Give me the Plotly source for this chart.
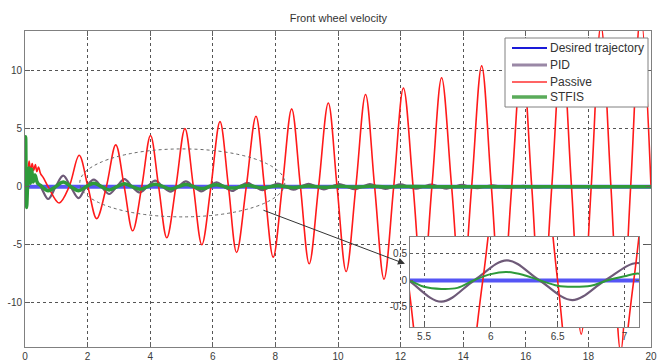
import plotly.graph_objects as go

title_text = "Front wheel velocity"
series_names = ["Desired trajectory", "PID", "Passive", "STFIS"]

# Desired trajectory (constant zero)
desired_t = [0, 20]
desired_v = [0, 0]

# PID response: start-up, then extrema / zero crossings
pid_t = [0, 0.08, 0.15, 0.22, 0.3, 0.5, 0.74, 0.98, 1.22, 1.46, 1.71, 1.95, 2.2, 2.44, 2.69, 2.93,
         3.18, 3.42, 3.67, 3.91, 4.16, 4.4, 4.65, 4.89, 5.14, 5.385, 5.63, 5.875, 6.12, 6.365,
         6.61, 6.855, 7.1, 7.345, 7.59, 7.835, 8.08, 8.325, 8.57, 8.815, 9.06, 9.305, 9.55,
         9.795, 10.04, 10.285, 10.53, 10.775, 11.02, 11.265, 11.51, 11.755, 12.0, 12.245,
         12.49, 12.735, 12.98, 13.225, 13.47, 13.715, 13.96, 14.205, 14.45, 14.695, 14.94,
         15.185, 15.43, 15.675, 15.92, 16.165, 16.41, 16.655, 16.9, 17.145, 17.39, 17.635,
         17.88, 18.125, 18.37, 18.615, 20.0]
pid_v = [0, 0.5, 0.8, 0.4, 0.7, 0, -1.06, 0, 0.95, 0, -0.98, 0, 0.6, 0, -0.63, 0,
         0.65, 0, -0.5, 0, 0.52, 0, -0.42, 0, 0.45, 0, -0.40, 0, 0.38, 0,
         -0.37, 0, 0.33, 0, -0.3, 0, 0.27, 0, -0.26, 0, 0.25, 0, -0.24,
         0, 0.23, 0, -0.22, 0, 0.22, 0, -0.2, 0, 0.2, 0,
         -0.18, 0, 0.18, 0, -0.16, 0, 0.15, 0, -0.13, 0, 0.12,
         0, -0.1, 0, 0.08, 0, -0.07, 0, 0.06, 0, -0.05, 0,
         0.04, 0, -0.03, 0, 0]

# Passive response
passive_t = [0, 0.02, 0.05, 0.09, 0.13, 0.18, 0.23, 0.28, 0.33, 0.38, 0.43, 0.5, 0.58, 0.74,
             1.09, 1.41, 1.73, 2.01, 2.29, 2.6, 2.9, 3.17, 3.44, 3.73, 4.01, 4.27, 4.53, 4.82,
             5.11, 5.38, 5.65, 5.94, 6.23, 6.5, 6.76, 7.07, 7.38, 7.65, 7.93, 8.22, 8.52, 8.8,
             9.08, 9.38, 9.69, 9.97, 10.26, 10.57, 10.88, 11.17, 11.47, 11.78, 12.09, 12.4,
             12.7, 13.0, 13.31, 13.63, 13.95, 14.27, 14.59, 14.9, 15.22, 15.55, 15.88, 16.19,
             16.5, 16.83, 17.15, 17.46, 17.77, 18.09, 18.4, 18.72, 19.03, 19.35, 19.67, 20.0]
passive_v = [0, 4.2, -1.6, 1.0, 2.2, 1.4, 2.0, 1.4, 1.9, 1.3, 1.7, 1.1, 0.8, 0,
             -1.4, 0, 2.7, 0, -2.75, 0, 3.6, 0, -3.8, 0, 4.4, 0, -4.4, 0,
             5.0, 0, -5.0, 0, 5.6, 0, -5.66, 0, 6.06, 0, -6.06, 0, 6.7, 0,
             -6.64, 0, 7.2, 0, -7.3, 0, 7.93, 0, -7.96, 0, 8.5, 0,
             -8.9, 0, 9.37, 0, -9.8, 0, 10.4, 0, -10.8, 0, 11.3, 0,
             -11.8, 0, 12.3, 0, -12.7, 0, 13.9, 0, -14.2, 0, 14.8, 0]

# STFIS response
stfis_t = [0, 0.02, 0.05, 0.09, 0.13, 0.17, 0.21, 0.26, 0.32, 0.4, 0.5, 0.74, 0.98, 1.22, 1.47,
           1.71, 1.96, 2.2, 2.45, 2.69, 2.94, 3.18, 3.43, 3.67, 3.92, 4.16, 4.41, 4.65, 4.9,
           5.14, 5.39, 5.5, 5.63, 5.75, 5.87, 6.0, 6.12, 6.25, 6.37, 6.5, 6.61, 6.75, 6.87,
           7.0, 7.1, 7.35, 7.59, 7.84, 8.08, 8.57, 9.06, 9.55, 10.04, 10.53, 11.02, 11.51,
           12.0, 13.0, 20.0]
stfis_v = [0, 4.3, -1.8, 0.5, 1.6, 0.3, 1.5, 0.4, 1.0, 0.3, 0.1, -0.35, 0, 0.4, 0,
           -0.35, 0, 0.3, 0, -0.28, 0, 0.25, 0, -0.22, 0, 0.2, 0, -0.19, 0,
           0.18, 0, -0.12, -0.16, -0.14, 0, 0.12, 0.16, 0.1, 0, -0.1, -0.12, -0.1, 0,
           0.08, 0.13, 0, -0.1, 0, 0.08, -0.07, 0.06, -0.05, 0.04, -0.03, 0.03, -0.02,
           0.02, 0, 0]

x_ticks = [0, 2, 4, 6, 8, 10, 12, 14, 16, 18, 20]
y_ticks = [-10, -5, 0, 5, 10]
y_tick_text = ["-10", "-5", "0", "5", "10"]
inset_x_ticks = [5.5, 6, 6.5, 7]
inset_x_text = ["5.5", "6", "6.5", "7"]
inset_y_ticks = [-0.5, 0, 0.5]
inset_y_text = ["-0.5", "0", "0.5"]

colors = {"Desired trajectory": "#5555f5", "PID": "#6e5a78", "Passive": "#ff1a1a", "STFIS": "#2e9a3a"}
widths_main = {"Desired trajectory": 4, "PID": 2.2, "Passive": 1.6, "STFIS": 3.5}
widths_inset = {"Desired trajectory": 4, "PID": 2.2, "Passive": 1.6, "STFIS": 2}
legend_colors = {"Desired trajectory": "#1a1ad8", "PID": "#9a88a6", "Passive": "#ff3030", "STFIS": "#5aab5a"}
legend_widths = {"Desired trajectory": 2, "PID": 3, "Passive": 1.5, "STFIS": 3.5}

data = {
    "Desired trajectory": (desired_t, desired_v),
    "PID": (pid_t, pid_v),
    "Passive": (passive_t, passive_v),
    "STFIS": (stfis_t, stfis_v),
}

FONT = "Liberation Sans, Arial, sans-serif"

fig = go.Figure()
for name in series_names:
    t, v = data[name]
    fig.add_trace(go.Scatter(x=t, y=v, name=name, mode="lines", showlegend=False,
                             line=dict(color=colors[name], width=widths_main[name],
                                       shape="spline", smoothing=1.0),
                             xaxis="x", yaxis="y", hoverinfo="skip"))
for name in series_names:
    t, v = data[name]
    fig.add_trace(go.Scatter(x=t, y=v, name=name, mode="lines", showlegend=False,
                             line=dict(color=colors[name], width=widths_inset[name],
                                       shape="spline", smoothing=1.0),
                             xaxis="x2", yaxis="y2", hoverinfo="skip"))

axis_common = dict(showline=True, linecolor="#808080", linewidth=1, mirror="ticks",
                   ticks="inside", tickcolor="#606060", showgrid=True, gridcolor="#555555",
                   griddash="dot", gridwidth=1, zeroline=False,
                   tickfont=dict(family=FONT, size=10, color="#3a3a3a"))

W, H = 657, 364
ML, MR, MT, MB = 25, 6, 31, 17
PW, PH = W - ML - MR, H - MT - MB


def px_to_paper(px, py):
    return (px - ML) / PW, (H - MB - py) / PH


fig.update_layout(
    width=W, height=H, template="none",
    margin=dict(l=ML, r=MR, t=MT, b=MB),
    paper_bgcolor="white", plot_bgcolor="white",
    title=dict(text=title_text, x=0.515, xanchor="center", y=0.95, yanchor="middle",
               font=dict(family=FONT, size=11, color="#333333")),
    font=dict(family=FONT),
    showlegend=False,
    xaxis=dict(domain=[0, 1], range=[0, 20], tickvals=x_ticks, ticklen=5, anchor="y", **axis_common),
    yaxis=dict(domain=[0, 1], range=[-13.8, 13.4], tickvals=y_ticks, ticktext=y_tick_text,
               ticklen=5, anchor="x", **axis_common),
    xaxis2=dict(domain=[0.615, 0.981], range=[5.395, 7.11], tickvals=inset_x_ticks,
                ticktext=inset_x_text, ticklen=3, anchor="y2", **axis_common),
    yaxis2=dict(domain=[0.063, 0.348], range=[-0.88, 0.82], tickvals=inset_y_ticks,
                ticktext=inset_y_text, ticklen=3, anchor="x2", **axis_common),
    hovermode=False,
)

# white background of the inset
fig.add_shape(type="rect", xref="x2", yref="y2", x0=5.395, x1=7.11, y0=-0.88, y1=0.82,
              fillcolor="white", line=dict(width=0), layer="below")
# dotted ellipse marking the zoomed region
fig.add_shape(type="circle", xref="x", yref="y", x0=1.75, x1=8.3, y0=-2.6, y1=3.25,
              line=dict(color="#666666", width=1, dash="dot"))
# arrow to the inset
fig.add_annotation(x=12.14, y=-6.64, ax=7.57, ay=-1.98, xref="x", yref="y", axref="x", ayref="y",
                   text="", showarrow=True, arrowhead=2, arrowsize=1.4, arrowwidth=1,
                   arrowcolor="#333333")

# legend box drawn by hand (compact MATLAB-like legend)
bx0, by0 = px_to_paper(505, 107)
bx1, by1 = px_to_paper(648, 38)
fig.add_shape(type="rect", xref="paper", yref="paper", x0=bx0, x1=bx1, y0=by0, y1=by1,
              fillcolor="white", line=dict(color="#808080", width=1), layer="above")
row_py = [48, 65, 82, 97]
for name, py in zip(series_names, row_py):
    lx0, ly = px_to_paper(512, py)
    lx1, _ = px_to_paper(547, py)
    tx, _ = px_to_paper(548, py)
    fig.add_shape(type="line", xref="paper", yref="paper", x0=lx0, x1=lx1, y0=ly, y1=ly,
                  line=dict(color=legend_colors[name], width=legend_widths[name]), layer="above")
    fig.add_annotation(x=tx, y=ly, xref="paper", yref="paper", text=name, showarrow=False,
                       xanchor="left", yanchor="middle",
                       font=dict(family=FONT, size=12, color="#333333"))

fig.write_html("out.html")
